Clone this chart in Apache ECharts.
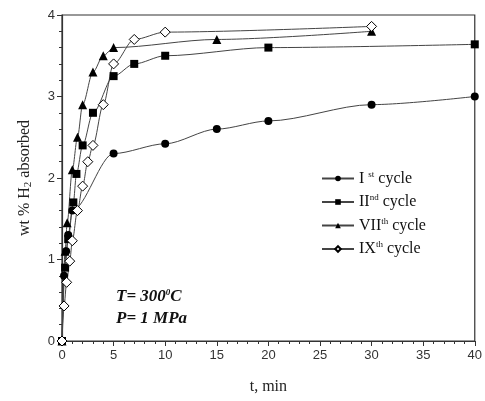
<!DOCTYPE html>
<html><head><meta charset="utf-8">
<script src="https://cdn.jsdelivr.net/npm/echarts@6/dist/echarts.min.js"></script>
<style>html,body{margin:0;padding:0;background:#fff}#c{width:485px;height:401px}</style>
</head><body><div id="c"></div>
<script>
// Data (time in min, wt% H2)
const t1 = [0, 0.2, 0.4, 0.6, 1, 5, 10, 15, 20, 30, 40];
const y1 = [0, 0.8, 1.1, 1.3, 1.6, 2.3, 2.42, 2.6, 2.7, 2.9, 3.0];
const t2 = [0, 0.3, 0.6, 1.1, 1.4, 2, 3, 5, 7, 10, 20, 40];
const y2 = [0, 0.9, 1.25, 1.7, 2.05, 2.4, 2.8, 3.25, 3.4, 3.5, 3.6, 3.64];
const t7 = [0, 0.3, 0.5, 1, 1.5, 2, 3, 4, 5, 15, 30];
const y7 = [0, 1.1, 1.45, 2.1, 2.5, 2.9, 3.3, 3.5, 3.6, 3.7, 3.8];
const t9 = [0, 0.2, 0.45, 0.75, 1, 1.5, 2, 2.5, 3, 4, 5, 7, 10, 30];
const y9 = [0, 0.43, 0.72, 0.98, 1.23, 1.6, 1.9, 2.2, 2.4, 2.9, 3.4, 3.7, 3.79, 3.86];
const names = ['I st cycle', 'II nd cycle', 'VII th cycle', 'IX th cycle'];
const legendRich = {
  'I st cycle': '{n|I }{s|st}{n| cycle}',
  'II nd cycle': '{n|II}{s|nd}{n| cycle}',
  'VII th cycle': '{n|VII}{s|th}{n| cycle}',
  'IX th cycle': '{n|IX}{s|th}{n| cycle}'
};
const xTicks = [0, 5, 10, 15, 20, 25, 30, 35, 40];
const yTicks = [0, 1, 2, 3, 4];

const zip = (a, b) => a.map((v, i) => [v, b[i]]);
const serif = '"Liberation Serif","Times New Roman",serif';
const sans = '"Liberation Sans",Arial,sans-serif';
function ser(name, data, symbol, hollow) {
  return {
    name, type: 'line', data, symbol, symbolSize: symbol === 'diamond' ? 10 : (symbol === 'triangle' ? 9 : 8),
    smooth: 0.3, smoothMonotone: 'x',
    lineStyle: {color: '#444', width: 1},
    itemStyle: {color: hollow ? '#fff' : '#000', borderColor: '#000', borderWidth: hollow ? 1 : 0},
    showAllSymbol: true, animation: false
  };
}
const chart = echarts.init(document.getElementById('c'), null, {renderer: 'canvas'});
chart.setOption({
  animation: false,
  grid: {left: 62, right: 5, top: 15, bottom: 60, show: true, borderColor: '#333', borderWidth: 1.2},
  xAxis: {
    type: 'value', min: xTicks[0], max: xTicks[xTicks.length - 1], interval: 5,
    name: 't, min', nameLocation: 'middle', nameGap: 38,
    nameTextStyle: {fontFamily: serif, fontSize: 16, color: '#222'},
    axisLine: {lineStyle: {color: '#333', width: 1.2}},
    axisTick: {length: 5, lineStyle: {color: '#333'}},
    minorTick: {show: true, splitNumber: 5, length: 3, lineStyle: {color: '#333'}},
    splitLine: {show: false},
    axisLabel: {fontFamily: sans, fontSize: 13, color: '#333', margin: 8}
  },
  yAxis: {
    type: 'value', min: yTicks[0], max: yTicks[yTicks.length - 1], interval: 1,
    name: '{n|wt % H}{sub|2}{n| absorbed}', nameLocation: 'middle', nameGap: 28,
    nameTextStyle: {fontFamily: serif, fontSize: 16, color: '#222',
      rich: {n: {fontFamily: serif, fontSize: 16, color: '#222'},
             sub: {fontFamily: serif, fontSize: 11, color: '#222', verticalAlign: 'bottom', padding: [8, 0, 0, 0]}}},
    axisLine: {show: true, lineStyle: {color: '#333', width: 1.2}},
    axisTick: {show: true, length: 5, lineStyle: {color: '#333'}},
    minorTick: {show: true, splitNumber: 5, length: 3, lineStyle: {color: '#333'}},
    splitLine: {show: false},
    axisLabel: {fontFamily: sans, fontSize: 13, color: '#333', margin: 7}
  },
  legend: {
    data: names, orient: 'vertical', left: 316, top: 165, itemGap: 7,
    itemWidth: 32, itemHeight: 7,
    formatter: n => legendRich[n],
    textStyle: {fontFamily: serif, fontSize: 16, color: '#111',
      rich: {n: {fontFamily: serif, fontSize: 16, color: '#111'},
             s: {fontFamily: serif, fontSize: 9, color: '#111', verticalAlign: 'top', padding: [0, 0, 8, 0]}}}
  },
  graphic: [
    {type: 'text', left: 116, top: 288, style: {
      rich: {b: {font: 'italic bold 17px ' + serif, fill: '#111'}, s: {font: 'italic bold 9px ' + serif, fill: '#111', verticalAlign: 'top', padding: [0, 0, 9, 0]}},
      text: '{b|T= 300}{s|0}{b|C}'}},
    {type: 'text', left: 116, top: 310, style: {text: 'P= 1 MPa', font: 'italic bold 17px ' + serif, fill: '#111'}}
  ],
  series: [
    ser(names[0], zip(t1, y1), 'circle', false),
    ser(names[1], zip(t2, y2), 'rect', false),
    ser(names[2], zip(t7, y7), 'triangle', false),
    ser(names[3], zip(t9, y9), 'diamond', true)
  ]
});
</script></body></html>
